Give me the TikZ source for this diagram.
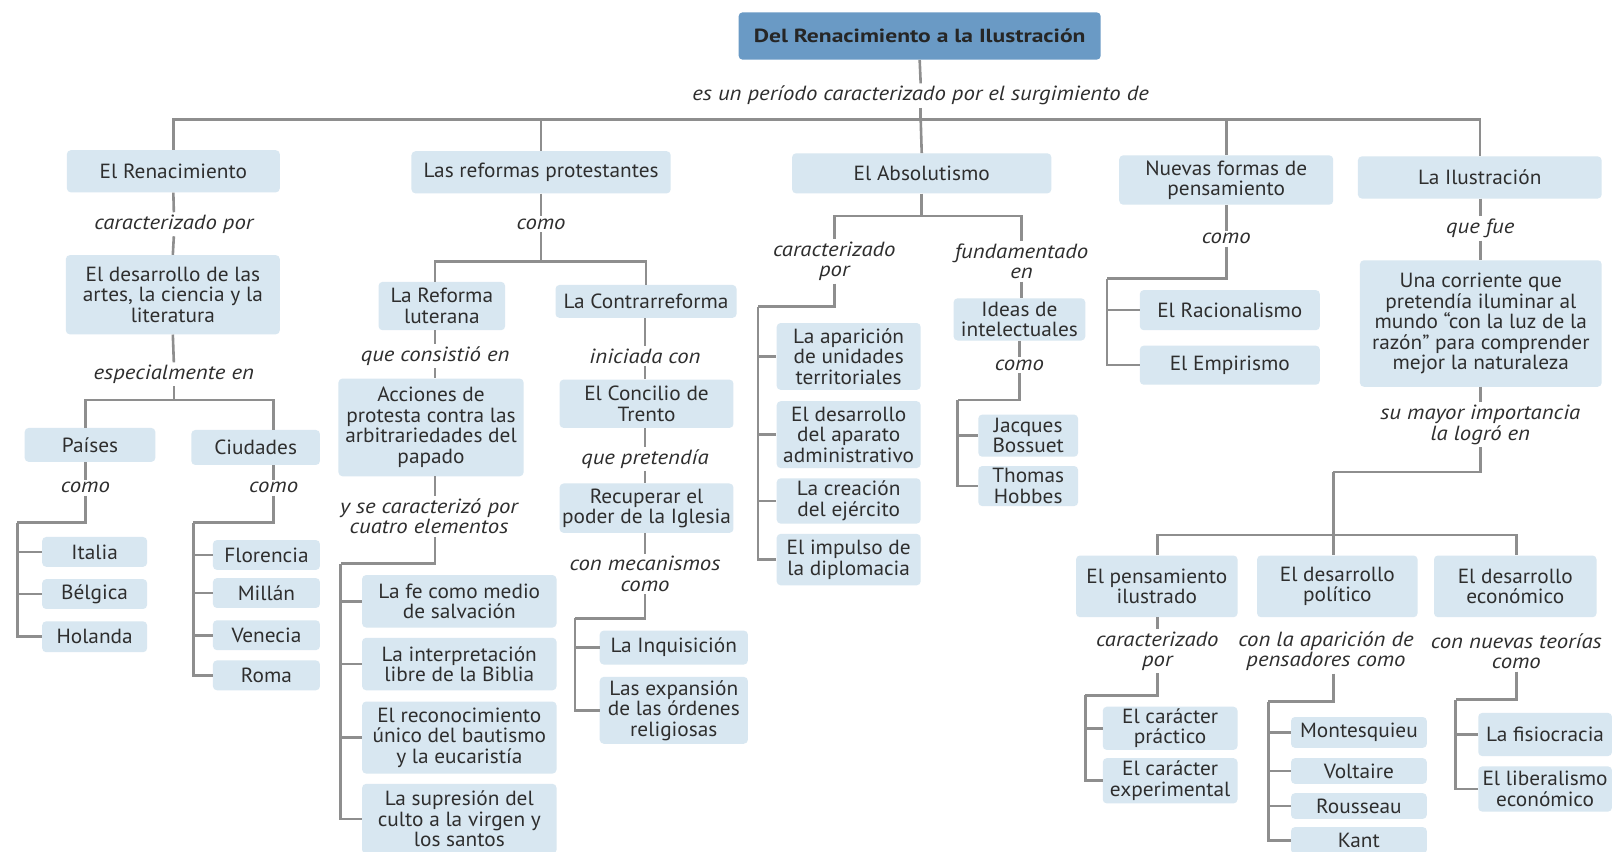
\documentclass[tikz,border=0pt]{standalone}
\usepackage{fontspec}
\setmainfont{PT Sans}
\newfontfamily\bodyfont{PT Sans}[FakeStretch=1.04]
\newfontfamily\labfont{PT Sans}[FakeStretch=1.11]
\newfontfamily\titlefont{PT Sans}[FakeStretch=1.24]
\usetikzlibrary{calc}
\definecolor{boxfill}{HTML}{D8E7F1}
\definecolor{titlefill}{HTML}{6A9AC5}
\definecolor{linec}{HTML}{8E8E8E}
\definecolor{txt}{HTML}{2E2E2E}
\newcommand\fs{\bodyfont\fontsize{20.5}{20.5}\selectfont}
\newcommand\fl{\labfont\fontsize{20.5}{20.5}\selectfont\itshape}
\newcommand\mybox[6]{\node[box, minimum width={(#4-#2)*1.0287pt}, minimum height={(#5-#3)*1.0287pt}] (#1) at ({(#2+#4)/2},{(#3+#5)/2}) {#6};}
\begin{document}
\begin{tikzpicture}[x=1.0287pt,y=-1.0287pt,
  box/.style={fill=boxfill, rounded corners=4pt, align=center, inner sep=1pt, font=\fs, text=txt},
  titlebox/.style={fill=titlefill, rounded corners=4pt, align=center, inner sep=1pt, font=\titlefont\fontsize{19}{20}\selectfont\bfseries, text=black!85},
  lab/.style={align=center, font=\fl, inner sep=2.5pt, text=txt},
  conn/.style={draw=linec, line width=2.6pt}]
\fill[white] (0,0) rectangle (1568,828);
\useasboundingbox (0,0) rectangle (1568,828);

% title
\node[titlebox, minimum width={352*1.0287pt}, minimum height={46*1.0287pt}] (title) at (894,35) {Del Renacimiento a la Ilustración};
\node[lab] (esun) at (895,93) {es un período caracterizado por el surgimiento de};
\coordinate (top) at (895,116);

% level 1
\mybox{ren}{65}{146}{272}{187}{El Renacimiento}
\mybox{ref}{400}{147}{652}{188}{Las reformas protestantes}
\mybox{abs}{770}{149}{1022}{188}{El Absolutismo}
\mybox{nue}{1088}{151}{1296}{199}{Nuevas formas de\\pensamiento}
\mybox{ilu}{1320}{152}{1557}{193}{La Ilustración}

\draw[conn] (title.south) -- (esun.north);
\draw[conn] (esun.south) -- (top);
\draw[conn] (top) -| (ren.north);
\draw[conn] (top) -| (ref.north);
\draw[conn] (top) -- (abs.north);
\draw[conn] (top) -| (nue.north);
\draw[conn] (top) -| (ilu.north);

% Renacimiento
\node[lab] (l1) at (169,218) {caracterizado por};
\mybox{des}{64}{248}{272}{325}{El desarrollo de las\\artes, la ciencia y la\\literatura}
\node[lab] (l2) at (169,364) {especialmente en};
\coordinate (b2) at (169,389);
\mybox{pai}{24}{416}{151}{449}{Países}
\mybox{ciu}{186}{418}{311}{452}{Ciudades}
\node[lab] (comoP) at (83,474) {como};
\node[lab] (comoC) at (266,474) {como};
\coordinate (sP) at (17,508);
\coordinate (sC) at (188,508);
\mybox{ita}{41}{522}{143}{551}{Italia}
\mybox{bel}{41}{563}{143}{592}{Bélgica}
\mybox{hol}{41}{604}{143}{634}{Holanda}
\mybox{flo}{207}{525}{311}{554}{Florencia}
\mybox{mil}{207}{562}{311}{591}{Millán}
\mybox{ven}{207}{603}{311}{632}{Venecia}
\mybox{rom}{207}{642}{311}{671}{Roma}

\draw[conn] (ren.south) -- (l1.north);
\draw[conn] (l1.south) -- (des.north);
\draw[conn] (des.south) -- (l2.north);
\draw[conn] (l2.south) -- (b2);
\draw[conn] (b2) -| (pai.north -| comoP);
\draw[conn] (b2) -| (ciu.north -| comoC);
\draw[conn] (pai.south -| comoP) -- (comoP.north);
\draw[conn] (ciu.south -| comoC) -- (comoC.north);
\draw[conn] (comoP.south) |- (sP);
\draw[conn] (comoC.south) |- (sC);
\foreach \n in {ita,bel,hol} \draw[conn] (sP) |- (\n.west);
\foreach \n in {flo,mil,ven,rom} \draw[conn] (sC) |- (\n.west);

% Reformas
\node[lab] (comoR) at (526,218) {como};
\coordinate (b3) at (526,254);
\mybox{lut}{368}{274}{491}{321}{La Reforma\\luterana}
\mybox{con}{540}{277}{716}{309}{La Contrarreforma}
\node[lab] (l3) at (423,346) {que consistió en};
\mybox{acc}{329}{368}{509}{463}{Acciones de\\protesta contra las\\arbitrariedades del\\papado}
\node[lab] (l4) at (417,502) {y se caracterizó por\\cuatro elementos};
\coordinate (sA) at (331,548);
\mybox{fe}{352}{559}{541}{610}{La fe como medio\\de salvación}
\mybox{int}{352}{620}{541}{671}{La interpretación\\libre de la Biblia}
\mybox{rec}{352}{682}{541}{752}{El reconocimiento\\único del bautismo\\y la eucaristía}
\mybox{sup}{352}{762}{541}{830}{La supresión del\\culto a la virgen y\\los santos}

\draw[conn] (ref.south) -- (comoR.north);
\draw[conn] (comoR.south) -- (b3);
\draw[conn] (b3) -| (lut.north -| l3);
\draw[conn] (b3) -| (con.north);
\draw[conn] (lut.south -| l3) -- (l3.north);
\draw[conn] (l3.south) -- (acc.north -| l3);
\draw[conn] (acc.south -| l3) -- (l4.north -| l3);
\draw[conn] (l4.south -| l3) |- (sA);
\foreach \n in {fe,int,rec,sup} \draw[conn] (sA) |- (\n.west);

\node[lab] (l5) at (627,346) {iniciada con};
\mybox{tre}{544}{369}{713}{416}{El Concilio de\\Trento}
\node[lab] (l6) at (627,446) {que pretendía};
\mybox{rcp}{544}{470}{713}{518}{Recuperar el\\poder de la Iglesia}
\node[lab] (l7) at (627,558) {con mecanismos\\como};
\coordinate (sK) at (559,601);
\mybox{inq}{583}{613}{727}{646}{La Inquisición}
\mybox{exp}{583}{658}{727}{723}{Las expansión\\de las órdenes\\religiosas}

\draw[conn] (con.south -| l5) -- (l5.north);
\draw[conn] (l5.south) -- (tre.north -| l5);
\draw[conn] (tre.south -| l5) -- (l6.north);
\draw[conn] (l6.south) -- (rcp.north -| l6);
\draw[conn] (rcp.south -| l7) -- (l7.north);
\draw[conn] (l7.south) |- (sK);
\draw[conn] (sK) |- (inq.west);
\draw[conn] (sK) |- (exp.west);

% Absolutismo
\coordinate (b4) at (896,210);
\node[lab] (l8) at (811,254) {caracterizado\\por};
\node[lab] (l9) at (993,254) {fundamentado\\en};
\coordinate (sB) at (737,298);
\mybox{apa}{755}{314}{895}{379}{La aparición\\de unidades\\territoriales}
\mybox{dap}{755}{390}{895}{455}{El desarrollo\\del aparato\\administrativo}
\mybox{cre}{755}{465}{895}{509}{La creación\\del ejército}
\mybox{imp}{755}{519}{895}{569}{El impulso de\\la diplomacia}
\mybox{ide}{927}{290}{1055}{331}{Ideas de\\intelectuales}
\node[lab] (l10) at (991,355) {como};
\coordinate (sI) at (931,389);
\mybox{jac}{951}{403}{1048}{444}{Jacques\\Bossuet}
\mybox{tho}{951}{453}{1048}{492}{Thomas\\Hobbes}

\draw[conn] (abs.south) -- (b4);
\draw[conn] (b4) -| (l8.north);
\draw[conn] (b4) -| (l9.north);
\draw[conn] (l8.south) |- (sB);
\foreach \n in {apa,dap,cre,imp} \draw[conn] (sB) |- (\n.west);
\draw[conn] (l9.south) -- (ide.north -| l9);
\draw[conn] (ide.south -| l10) -- (l10.north);
\draw[conn] (l10.south) |- (sI);
\draw[conn] (sI) |- (jac.west);
\draw[conn] (sI) |- (tho.west);

% Nuevas formas
\node[lab] (l11) at (1192,232) {como};
\coordinate (sN) at (1076,271);
\mybox{rac}{1108}{282}{1283}{321}{El Racionalismo}
\mybox{emp}{1108}{336}{1283}{374}{El Empirismo}
\draw[conn] (nue.south) -- (l11.north);
\draw[conn] (l11.south) |- (sN);
\draw[conn] (sN) |- (rac.west);
\draw[conn] (sN) |- (emp.west);

% Ilustracion
\node[lab] (l12) at (1439,222) {que fue};
\mybox{cor}{1322}{253}{1557}{376}{Una corriente que\\pretendía iluminar al\\mundo “con la luz de la\\razón” para comprender\\mejor la naturaleza}
\node[lab] (l13) at (1439,413) {su mayor importancia\\la logró en};
\coordinate (bI) at (1296,459);
\coordinate (bJ) at (1296,520);
\mybox{pen}{1046}{540}{1203}{600}{El pensamiento\\ilustrado}
\mybox{pol}{1222}{540}{1378}{600}{El desarrollo\\político}
\mybox{eco}{1394}{540}{1552}{600}{El desarrollo\\económico}
\node[lab] (l14) at (1125,633) {caracterizado\\por};
\node[lab] (l15) at (1289,633) {con la aparición de\\pensadores como};
\node[lab] (l16) at (1474,633) {con nuevas teorías\\como};

\draw[conn] (ilu.south -| l12) -- (l12.north);
\draw[conn] (l12.south) -- (cor.north -| l12);
\draw[conn] (cor.south -| l13) -- (l13.north);
\draw[conn] (l13.south) |- (bI);
\draw[conn] (bI) -- (bJ);
\draw[conn] (bJ) -| (pen.north -| l14);
\draw[conn] (bJ) -- (pol.north -| bJ);
\draw[conn] (bJ) -| (eco.north -| l16);
\draw[conn] (pen.south -| l14) -- (l14.north);

\coordinate (sT) at (1055,676);
\coordinate (sU) at (1233,682);
\coordinate (sV) at (1415,680);
\mybox{ca1}{1072}{687}{1203}{729}{El carácter\\práctico}
\mybox{ca2}{1072}{737}{1203}{781}{El carácter\\experimental}
\mybox{mon}{1255}{697}{1387}{727}{Montesquieu}
\mybox{vol}{1255}{737}{1387}{762}{Voltaire}
\mybox{rou}{1255}{771}{1387}{796}{Rousseau}
\mybox{kan}{1255}{804}{1387}{830}{Kant}
\mybox{fis}{1437}{693}{1567}{735}{La fisiocracia}
\mybox{lib}{1437}{745}{1567}{789}{El liberalismo\\económico}

\draw[conn] (l14.south) |- (sT);
\draw[conn] (sT) |- (ca1.west);
\draw[conn] (sT) |- (ca2.west);
\draw[conn] (l15.south -| bJ) |- (sU);
\foreach \n in {mon,vol,rou,kan} \draw[conn] (sU) |- (\n.west);
\draw[conn] (l16.south) |- (sV);
\draw[conn] (sV) |- (fis.west);
\draw[conn] (sV) |- (lib.west);
\end{tikzpicture}
\end{document}
